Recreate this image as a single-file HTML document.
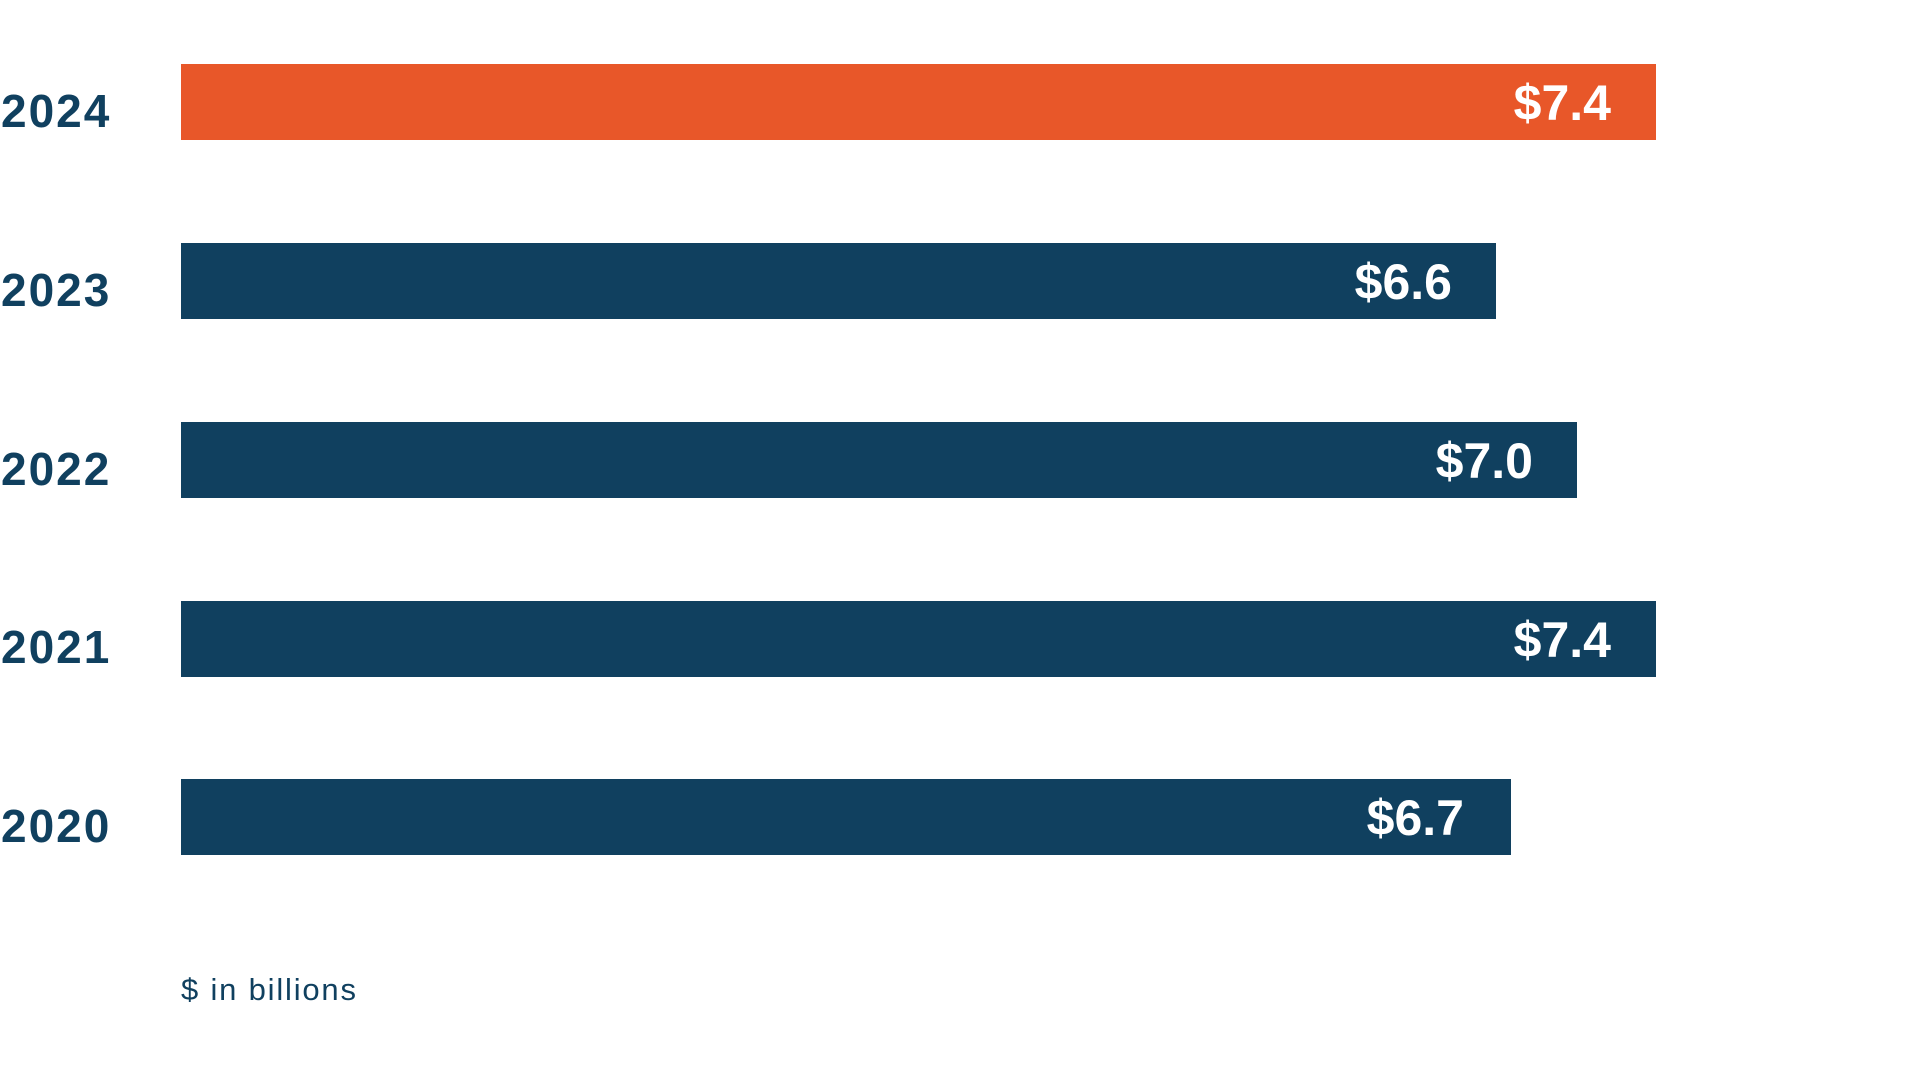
<!DOCTYPE html>
<html><head><meta charset="utf-8"><style>
html,body{margin:0;padding:0;background:#fff;width:1920px;height:1080px;overflow:hidden}
</style></head><body>
<svg width="1920" height="1080" xmlns="http://www.w3.org/2000/svg" font-family="Liberation Sans, sans-serif">
<g font-weight="bold" font-size="46" fill="#10405f" letter-spacing="2">
<text x="1" y="127">2024</text>
<text x="1" y="306">2023</text>
<text x="1" y="485">2022</text>
<text x="1" y="663">2021</text>
<text x="1" y="842">2020</text>
</g>
<rect x="181" y="64" width="1475" height="76" fill="#e85729"/>
<rect x="181" y="243" width="1315" height="76" fill="#10405f"/>
<rect x="181" y="422" width="1396" height="76" fill="#10405f"/>
<rect x="181" y="601" width="1475" height="76" fill="#10405f"/>
<rect x="181" y="779" width="1330" height="76" fill="#10405f"/>
<g font-weight="bold" font-size="50" fill="#fff" text-anchor="end">
<text x="1611" y="120">$7.4</text>
<text x="1452" y="299">$6.6</text>
<text x="1533" y="478">$7.0</text>
<text x="1611" y="657">$7.4</text>
<text x="1464" y="835">$6.7</text>
</g>
<text x="181" y="1000" font-size="31" fill="#10405f" letter-spacing="1.8">$ in billions</text>
</svg>
</body></html>
